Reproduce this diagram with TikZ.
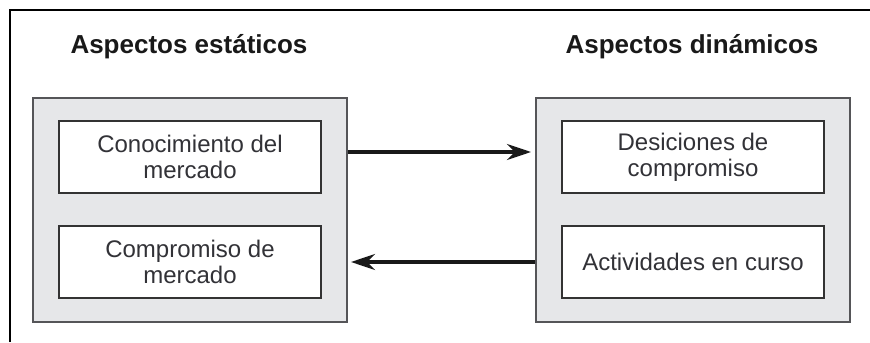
\documentclass[tikz,border=0pt]{standalone}
\usepackage{fontspec}
\setmainfont{Liberation Sans}
\usetikzlibrary{arrows.meta}
\definecolor{PanelGray}{RGB}{230,231,233}
\definecolor{EdgeGray}{RGB}{85,85,88}
\definecolor{TextGray}{RGB}{50,50,55}

\begin{document}
\begin{tikzpicture}[x=0.5pt,y=0.5pt,>={Stealth[length=12pt,width=8pt,inset=4pt]},
    panel/.style={draw=EdgeGray,line width=1pt,fill=PanelGray,minimum width=157pt,minimum height=112pt,inner sep=0pt},
    item/.style={draw=black!80,line width=1pt,fill=white,minimum width=131pt,minimum height=36pt,inner sep=2pt,align=center,text=TextGray,font=\fontsize{12}{13}\selectfont},
    head/.style={font=\bfseries\fontsize{13}{15}\selectfont,text=black!90},
    flow/.style={->,line width=1.6pt,black!90}]
      \useasboundingbox (0,0) rectangle (870,342);
      \draw[line width=1.2pt] (10,0)--(10,332)--(870,332);
      \node[head] (hs) at (189,295) {Aspectos estáticos};
      \node[head] (hd) at (692,295) {Aspectos dinámicos};
      \node[panel] (lout) at (190,132) {};
      \node[panel] (rout) at (693,132) {};
      \node[item] (lk) at (190,185) {Conocimiento del\\mercado};
      \node[item] (lc) at (190,80) {Compromiso de\\mercado};
      \node[item] (rd) at (693,185) {Desiciones de\\compromiso};
      \node[item] (ra) at (693,80) {Actividades en curso};
      \draw[flow,shorten >=2pt] ([yshift=2.5pt]lout.east |- lk.center) -- ([yshift=2.5pt]rout.west |- lk.center);
      \draw[flow,shorten >=1.5pt] (rout.west |- lc.center) -- (lout.east |- lc.center);
    \end{tikzpicture}
\end{document}
